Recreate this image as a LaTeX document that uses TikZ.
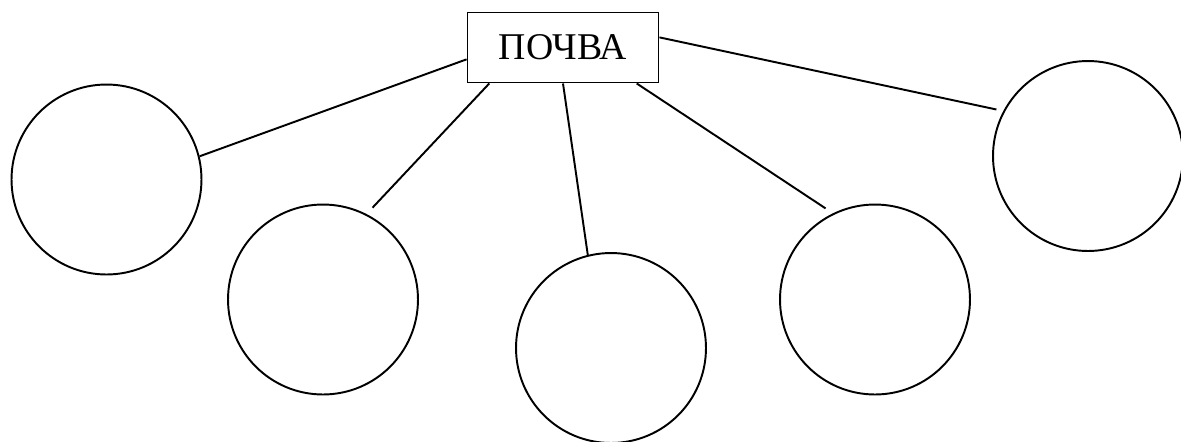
\documentclass[tikz,border=0pt]{standalone}
\usepackage{fontspec}
\setmainfont{Liberation Serif}

\begin{document}
\begin{tikzpicture}[x=0.02cm, y=-0.02cm, line width=1.1pt,
  every node/.style={font=\fontsize{21.5}{26}\selectfont},
  part/.style={draw, circle, minimum size=3.8cm, inner sep=0pt}]
\useasboundingbox (0,0) rectangle (1181,441);

% Soil
\node[draw, minimum width=3.82cm, minimum height=1.4cm, inner sep=0pt] (soil) at (563,47.5) {ПОЧВА};

% Parts
\node[part] (part1) at (106.5,179.5) {};
\node[part] (part2) at (323,299.5) {};
\node[part] (part3) at (611,348) {};
\node[part] (part4) at (875,299.5) {};
\node[part] (part5) at (1088,156) {};

% Links
\draw (soil.187) -- (part1.14);
\draw[shorten >=5pt] (soil.206) -- (part2.63.5);
\draw (soil.south) -- (part3.104.3);
\draw[shorten >=5pt] (soil.334.3) -- (part4.116.2);
\draw[shorten >=4pt] (soil.6.8) -- (part5.152.4);
\end{tikzpicture}
\end{document}
